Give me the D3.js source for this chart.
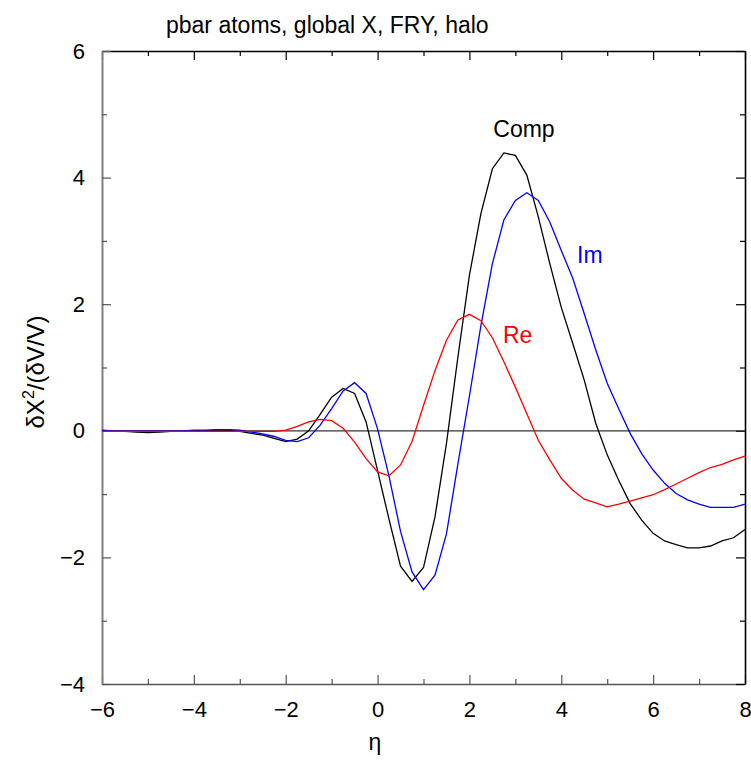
<!DOCTYPE html>
<html>
<head>
<meta charset="utf-8">
<script src="https://cdn.jsdelivr.net/npm/d3@7/dist/d3.min.js"></script>
<style>
  html, body { margin: 0; padding: 0; background: #fff; }
  svg { display: block; font-family: "Liberation Sans", Arial, Helvetica, sans-serif; }
</style>
</head>
<body>
<svg id="chart" width="751" height="760"></svg>
<script>
// η grid (step 0.25)
const eta = [
  -6, -5.75, -5.5, -5.25, -5, -4.75, -4.5, -4.25, -4, -3.75, -3.5, -3.25, -3, -2.75, -2.5, -2.25,
  -2, -1.75, -1.5, -1.25, -1, -0.75, -0.5, -0.25, 0, 0.25, 0.5, 0.75, 1, 1.25, 1.5, 1.75,
  2, 2.25, 2.5, 2.75, 3, 3.25, 3.5, 3.75, 4, 4.25, 4.5, 4.75, 5, 5.25, 5.5, 5.75,
  6, 6.25, 6.5, 6.75, 7, 7.25, 7.5, 7.75, 8
];

// Complete response
const comp = [
  0.00, -0.01, -0.01, -0.02, -0.03, -0.02, -0.01, -0.01, 0.00, 0.00, 0.01, 0.01, -0.01, -0.04, -0.07, -0.12,
  -0.17, -0.13, 0.00, 0.26, 0.53, 0.67, 0.59, 0.14, -0.63, -1.40, -2.14, -2.38, -2.16, -1.36, -0.20, 1.17,
  2.46, 3.43, 4.14, 4.39, 4.35, 4.04, 3.38, 2.64, 1.95, 1.38, 0.80, 0.12, -0.38, -0.78, -1.15, -1.41,
  -1.62, -1.74, -1.80, -1.85, -1.85, -1.82, -1.74, -1.69, -1.56
];

// Imaginary part
const im = [
  0.01, 0.00, 0.00, 0.00, 0.00, 0.00, 0.00, 0.00, 0.01, 0.01, 0.02, 0.02, 0.01, -0.02, -0.05, -0.09,
  -0.15, -0.17, -0.11, 0.09, 0.35, 0.63, 0.76, 0.59, 0.03, -0.72, -1.59, -2.23, -2.51, -2.28, -1.63, -0.52,
  0.55, 1.66, 2.64, 3.33, 3.64, 3.76, 3.64, 3.30, 2.85, 2.41, 1.85, 1.28, 0.75, 0.35, -0.04, -0.36,
  -0.62, -0.83, -0.99, -1.09, -1.16, -1.21, -1.21, -1.21, -1.16
];

// Real part
const re = [
  -0.01, -0.01, -0.01, -0.01, -0.01, -0.01, -0.01, -0.01, -0.01, -0.01, -0.01, -0.01, -0.01, -0.01, -0.01, -0.01,
  0.01, 0.07, 0.14, 0.18, 0.16, 0.04, -0.18, -0.44, -0.65, -0.71, -0.54, -0.17, 0.40, 0.95, 1.43, 1.75,
  1.84, 1.74, 1.47, 1.09, 0.69, 0.27, -0.15, -0.46, -0.75, -0.94, -1.08, -1.14, -1.20, -1.16, -1.11, -1.06,
  -1.01, -0.93, -0.84, -0.75, -0.66, -0.58, -0.53, -0.46, -0.40
];

const xMajor = [-6, -4, -2, 0, 2, 4, 6, 8];
const xMinor = [-5, -3, -1, 1, 3, 5, 7];
const yMajor = [-4, -2, 0, 2, 4, 6];
const yMinor = [-3, -1, 1, 3, 5];

const series = [
  { name: "Comp", values: comp, color: "#000000", lx: 524, ly: 137, anchor: "middle" },
  { name: "Im",   values: im,   color: "#0000ff", lx: 577, ly: 263, anchor: "start" },
  { name: "Re",   values: re,   color: "#ff0000", lx: 503, ly: 343, anchor: "start" }
];

const plotL = 102, plotR = 745, plotT = 51, plotB = 684;
const svg = d3.select("#chart");

const x = d3.scaleLinear().domain([-6, 8]).range([plotL, plotR]);
const y = d3.scaleLinear().domain([-4, 6]).range([plotB, plotT]);

const fs = 22;

// Axes: major ticks (labelled on bottom/left), minor ticks, all pointing inward
function styleAxis(g, stroke, width) {
  g.select(".domain").attr("stroke", stroke).attr("stroke-width", width);
  g.selectAll(".tick line").attr("stroke", stroke).attr("stroke-width", 1.2);
  g.selectAll(".tick text").attr("fill", "#000").style("font-size", fs + "px")
    .style("font-family", "'Liberation Sans', Arial, sans-serif");
}
function minorStyle(stroke) {
  return g => { g.select(".domain").remove(); g.selectAll(".tick line").attr("stroke", stroke).attr("stroke-width", 1.2); };
}

// bottom
const gb = svg.append("g").attr("transform", `translate(0,${plotB})`)
  .call(d3.axisBottom(x).tickValues(xMajor).tickSize(-9).tickSizeOuter(0).tickPadding(17));
styleAxis(gb, "#555", 1.6);
svg.append("g").attr("transform", `translate(0,${plotB})`)
  .call(d3.axisBottom(x).tickValues(xMinor).tickSize(-5).tickSizeOuter(0).tickFormat(""))
  .call(minorStyle("#555"));

// top
const gt = svg.append("g").attr("transform", `translate(0,${plotT})`)
  .call(d3.axisTop(x).tickValues(xMajor).tickSize(-9).tickSizeOuter(0).tickFormat(""));
styleAxis(gt, "#000", 1.6);
svg.append("g").attr("transform", `translate(0,${plotT})`)
  .call(d3.axisTop(x).tickValues(xMinor).tickSize(-5).tickSizeOuter(0).tickFormat(""))
  .call(minorStyle("#000"));

// left
const gl = svg.append("g").attr("transform", `translate(${plotL},0)`)
  .call(d3.axisLeft(y).tickValues(yMajor).tickSize(-9).tickSizeOuter(0).tickPadding(17));
styleAxis(gl, "#808080", 2);
gl.selectAll(".tick line").attr("stroke", "#555");
svg.append("g").attr("transform", `translate(${plotL},0)`)
  .call(d3.axisLeft(y).tickValues(yMinor).tickSize(-5).tickSizeOuter(0).tickFormat(""))
  .call(minorStyle("#555"));

// right
const gr = svg.append("g").attr("transform", `translate(${plotR},0)`)
  .call(d3.axisRight(y).tickValues(yMajor).tickSize(-9).tickSizeOuter(0).tickFormat(""));
styleAxis(gr, "#000", 1.6);
svg.append("g").attr("transform", `translate(${plotR},0)`)
  .call(d3.axisRight(y).tickValues(yMinor).tickSize(-5).tickSizeOuter(0).tickFormat(""))
  .call(minorStyle("#000"));

// zero line
svg.append("line")
  .attr("x1", x(-6)).attr("x2", x(8)).attr("y1", y(0)).attr("y2", y(0))
  .attr("stroke", "#333").attr("stroke-width", 1.2);

// curves
const line = d3.line().x((d, i) => x(eta[i])).y(d => y(d));
series.forEach(s => {
  svg.append("path").datum(s.values)
    .attr("d", line)
    .attr("fill", "none")
    .attr("stroke", s.color)
    .attr("stroke-width", 1.3)
    .attr("stroke-linejoin", "miter");
  svg.append("text")
    .attr("x", s.lx).attr("y", s.ly)
    .attr("text-anchor", s.anchor)
    .attr("fill", s.color)
    .style("font-size", "23px")
    .text(s.name);
});

// title
svg.append("text")
  .attr("x", 166).attr("y", 33)
  .style("font-size", "23px")
  .text("pbar atoms, global X, FRY, halo");

// x axis label
svg.append("text")
  .attr("x", 375).attr("y", 750)
  .attr("text-anchor", "middle")
  .style("font-size", "23px")
  .text("η");

// y axis label
const yl = svg.append("text")
  .attr("transform", "translate(44,372) rotate(-90)")
  .attr("text-anchor", "middle")
  .style("font-size", "24px");
yl.append("tspan").text("δX");
yl.append("tspan").attr("dy", -10).style("font-size", "16px").text("2");
yl.append("tspan").attr("dy", 10).text("/(δV/V)");
</script>
</body>
</html>
